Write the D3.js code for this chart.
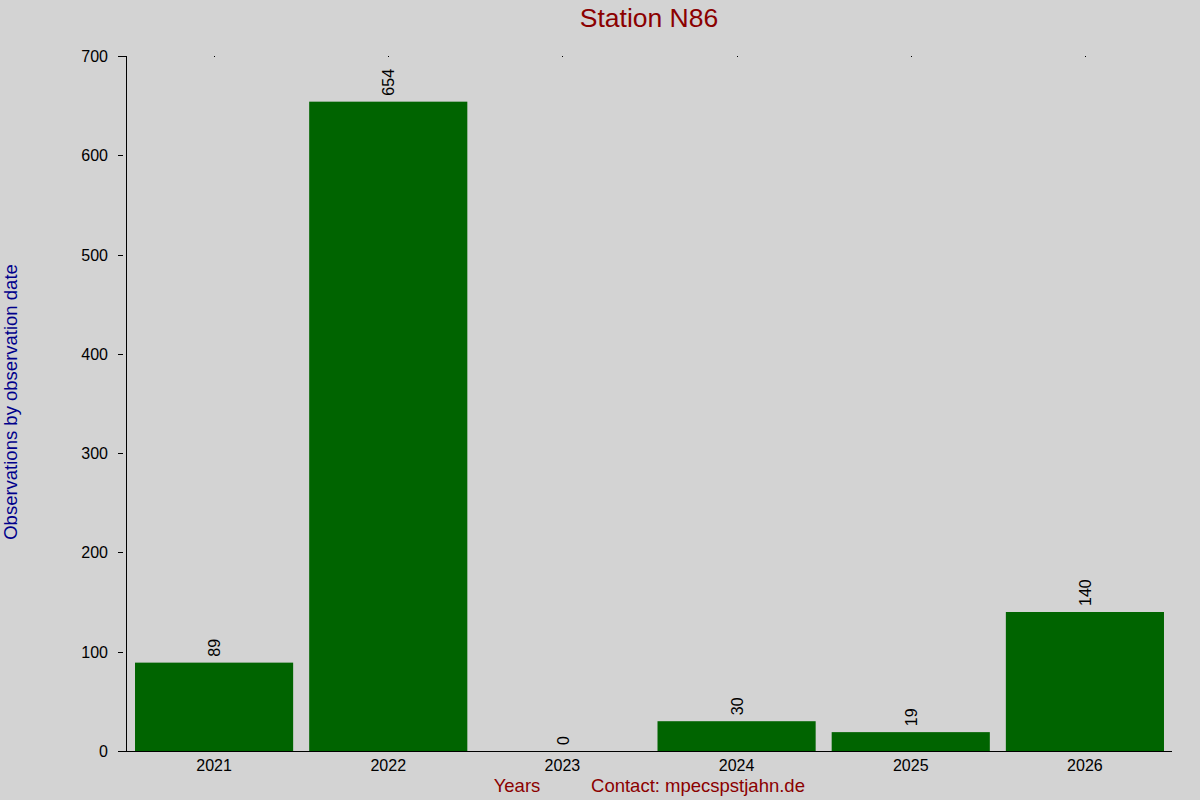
<!DOCTYPE html>
<html>
<head>
<meta charset="utf-8">
<script src="https://cdn.jsdelivr.net/npm/d3@7"></script>
<style>
  html, body { margin: 0; padding: 0; background: #d3d3d3; }
  svg { display: block; font-family: "Liberation Sans", Arial, sans-serif; }
</style>
</head>
<body>
<svg id="chart"></svg>
<script>
// data
const years = ['2021', '2022', '2023', '2024', '2025', '2026'];
const counts = [89, 654, 0, 30, 19, 140];
const yTicks = [0, 100, 200, 300, 400, 500, 600, 700];

const width = 1200;
const height = 800;
const margin = { top: 56, right: 28, bottom: 49, left: 126 };

const svg = d3.select('#chart')
  .attr('width', width)
  .attr('height', height);

svg.append('rect')
  .attr('width', width)
  .attr('height', height)
  .attr('fill', '#d3d3d3');

// scales
const x = d3.scaleBand()
  .domain(years)
  .range([margin.left + 1, width - margin.right])
  .paddingInner(0.092)
  .paddingOuter(0.046);

const y = d3.scaleLinear()
  .domain([0, 700])
  .range([height - margin.bottom, margin.top]);

// bars
svg.selectAll('.bar')
  .data(years)
  .enter()
  .append('rect')
  .attr('class', 'bar')
  .attr('x', d => x(d))
  .attr('width', x.bandwidth())
  .attr('y', (d, i) => y(counts[i]))
  .attr('height', (d, i) => y(0) - y(counts[i]))
  .attr('fill', '#006400');

// value labels, rotated
svg.selectAll('.val')
  .data(years)
  .enter()
  .append('text')
  .attr('class', 'val')
  .attr('transform', (d, i) =>
    `translate(${x(d) + x.bandwidth() / 2 + 2},${y(counts[i]) - 6}) rotate(-90)`)
  .attr('dominant-baseline', 'middle')
  .attr('text-anchor', 'start')
  .attr('font-size', 16)
  .attr('fill', '#000')
  .text((d, i) => counts[i]);

// y axis
const yAxis = svg.append('g');
yAxis.append('line')
  .attr('x1', margin.left + 0.5).attr('x2', margin.left + 0.5)
  .attr('y1', y(700)).attr('y2', y(0))
  .attr('stroke', '#000');
yAxis.selectAll('.tick')
  .data(yTicks)
  .enter()
  .append('line')
  .attr('x1', margin.left - 8)
  .attr('x2', d => d === 700 ? margin.left : margin.left - 3)
  .attr('y1', d => Math.round(y(d)) + 0.5)
  .attr('y2', d => Math.round(y(d)) + 0.5)
  .attr('stroke', '#000');
yAxis.selectAll('.tlabel')
  .data(yTicks)
  .enter()
  .append('text')
  .attr('x', margin.left - 18)
  .attr('y', d => y(d) + 6)
  .attr('text-anchor', 'end')
  .attr('font-size', 16)
  .attr('fill', '#000')
  .text(d => d);

// x axis
svg.append('line')
  .attr('x1', margin.left - 8).attr('x2', width - margin.right)
  .attr('y1', y(0) + 0.5).attr('y2', y(0) + 0.5)
  .attr('stroke', '#000');
svg.selectAll('.xlabel')
  .data(years)
  .enter()
  .append('text')
  .attr('x', d => x(d) + x.bandwidth() / 2)
  .attr('y', y(0) + 20)
  .attr('text-anchor', 'middle')
  .attr('font-size', 16)
  .attr('fill', '#000')
  .text(d => d);

// tiny marks along the top
svg.selectAll('.topmark')
  .data(years)
  .enter()
  .append('rect')
  .attr('x', d => Math.round(x(d) + x.bandwidth() / 2))
  .attr('y', y(700))
  .attr('width', 1)
  .attr('height', 1)
  .attr('fill', '#000');

// titles
svg.append('text')
  .attr('x', 649)
  .attr('y', 27)
  .attr('text-anchor', 'middle')
  .attr('font-size', 26.5)
  .attr('fill', '#8b0000')
  .text('Station N86');

svg.append('text')
  .attr('transform', `translate(17,${402}) rotate(-90)`)
  .attr('text-anchor', 'middle')
  .attr('font-size', 18.5)
  .attr('fill', '#00008b')
  .text('Observations by observation date');

svg.append('text')
  .attr('x', 517)
  .attr('y', 792)
  .attr('text-anchor', 'middle')
  .attr('font-size', 18.5)
  .attr('fill', '#8b0000')
  .text('Years');

svg.append('text')
  .attr('x', 698)
  .attr('y', 792)
  .attr('text-anchor', 'middle')
  .attr('font-size', 18.5)
  .attr('fill', '#8b0000')
  .text('Contact: mpecspstjahn.de');
</script>
</body>
</html>
